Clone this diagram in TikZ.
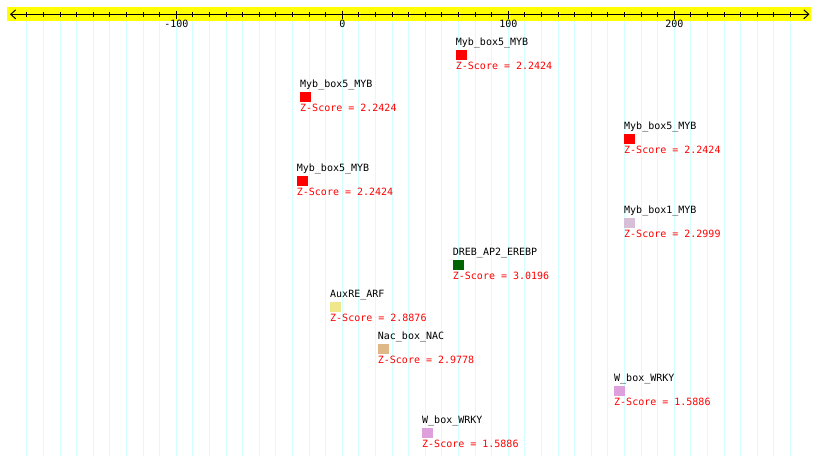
\documentclass[tikz,border=0pt]{standalone}
\usepackage{fontspec}
\newfontfamily\pixfont{DejaVu Sans Mono}
\usepackage{tikz}
\usetikzlibrary{arrows.meta, positioning}
\usepackage{xcolor}
\definecolor{axisyellow}{RGB}{255, 255, 0}
\definecolor{gridcyan}{RGB}{210, 255, 255}
\definecolor{mybred}{RGB}{255, 0, 0}
\definecolor{drebgreen}{RGB}{0, 100, 0}
\definecolor{auxkhaki}{RGB}{240, 230, 140}
\definecolor{nacwood}{RGB}{222, 184, 135}
\definecolor{wrkyplum}{RGB}{221, 160, 221}
\definecolor{mybthistle}{RGB}{216, 191, 216}

\begin{document}
\begin{tikzpicture}[
  x=1pt, y=-1pt,
  tfbox/.style={rectangle, draw=none, fill=#1, inner sep=0pt,
                minimum width=11pt, minimum height=10.5pt, anchor=north west},
  tfname/.style={inner sep=0pt, font=\pixfont\fontsize{10}{12}\selectfont, text=black},
  zscore/.style={inner sep=0pt, font=\pixfont\fontsize{10}{12}\selectfont, text=red},
  ticklbl/.style={inner sep=0pt, font=\pixfont\fontsize{10}{12}\selectfont, anchor=base},
  axisarr/.style={{Straight Barb[length=5pt,width=9pt]}-{Straight Barb[length=5pt,width=9pt]}, line width=1pt}
]
\useasboundingbox (0,0) rectangle (820,461);
\fill[white] (0,0) rectangle (820,461);
% grid lines and axis band
\foreach \u in {-190,-180,...,270}
  \draw[gridcyan, line width=1pt] ({342.3+1.66*\u},20.7) -- ({342.3+1.66*\u},456);
\fill[axisyellow] (7,7) rectangle (811,20.7);
\coordinate (axl) at (10,14.3);
\coordinate (axr) at (809.5,14.3);
\draw[axisarr] (axl) -- (axr);
\foreach \u in {-190,-180,...,270}
  \draw[line width=1pt] ({342.3+1.66*\u},12) -- ({342.3+1.66*\u},16.7);
\foreach \u [count=\i] in {-100,0,100,200}{
  \draw[line width=1pt] ({342.3+1.66*\u},10.7) -- ({342.3+1.66*\u},19);
  \node[ticklbl] (tick\i) at ({342.3+1.66*\u},27.6) {\u};
}
% binding sites
\node[tfbox=mybred] (b1) at (455.7,49.3) {};
\node[tfname, above=3.5pt of b1.north west, anchor=base west] (n1) {Myb\_box5\_MYB};
\node[zscore, below=9.5pt of b1.south west, anchor=base west] (z1) {Z-Score = 2.2424};
\node[tfbox=mybred] (b2) at (300,91.3) {};
\node[tfname, above=3.5pt of b2.north west, anchor=base west] (n2) {Myb\_box5\_MYB};
\node[zscore, below=9.5pt of b2.south west, anchor=base west] (z2) {Z-Score = 2.2424};
\node[tfbox=mybred] (b3) at (624,133.3) {};
\node[tfname, above=3.5pt of b3.north west, anchor=base west] (n3) {Myb\_box5\_MYB};
\node[zscore, below=9.5pt of b3.south west, anchor=base west] (z3) {Z-Score = 2.2424};
\node[tfbox=mybred] (b4) at (296.7,175.3) {};
\node[tfname, above=3.5pt of b4.north west, anchor=base west] (n4) {Myb\_box5\_MYB};
\node[zscore, below=9.5pt of b4.south west, anchor=base west] (z4) {Z-Score = 2.2424};
\node[tfbox=mybthistle] (b5) at (624,217.3) {};
\node[tfname, above=3.5pt of b5.north west, anchor=base west] (n5) {Myb\_box1\_MYB};
\node[zscore, below=9.5pt of b5.south west, anchor=base west] (z5) {Z-Score = 2.2999};
\node[tfbox=drebgreen] (b6) at (452.7,259.3) {};
\node[tfname, above=3.5pt of b6.north west, anchor=base west] (n6) {DREB\_AP2\_EREBP};
\node[zscore, below=9.5pt of b6.south west, anchor=base west] (z6) {Z-Score = 3.0196};
\node[tfbox=auxkhaki] (b7) at (330,301.3) {};
\node[tfname, above=3.5pt of b7.north west, anchor=base west] (n7) {AuxRE\_ARF};
\node[zscore, below=9.5pt of b7.south west, anchor=base west] (z7) {Z-Score = 2.8876};
\node[tfbox=nacwood] (b8) at (377.7,343.3) {};
\node[tfname, above=3.5pt of b8.north west, anchor=base west] (n8) {Nac\_box\_NAC};
\node[zscore, below=9.5pt of b8.south west, anchor=base west] (z8) {Z-Score = 2.9778};
\node[tfbox=wrkyplum] (b9) at (614,385.3) {};
\node[tfname, above=3.5pt of b9.north west, anchor=base west] (n9) {W\_box\_WRKY};
\node[zscore, below=9.5pt of b9.south west, anchor=base west] (z9) {Z-Score = 1.5886};
\node[tfbox=wrkyplum] (b10) at (422,427.3) {};
\node[tfname, above=3.5pt of b10.north west, anchor=base west] (n10) {W\_box\_WRKY};
\node[zscore, below=9.5pt of b10.south west, anchor=base west] (z10) {Z-Score = 1.5886};
\end{tikzpicture}
\end{document}
